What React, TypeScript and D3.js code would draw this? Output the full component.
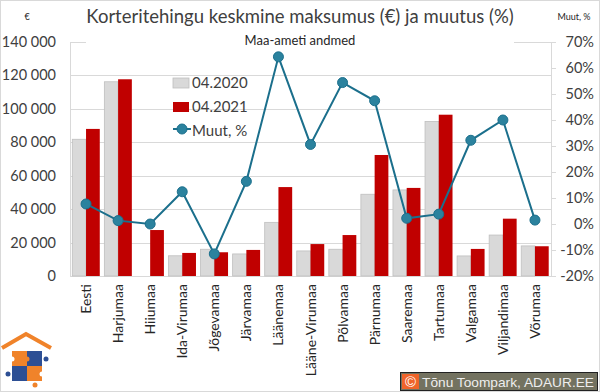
import React, { useEffect, useRef } from 'react';
import * as d3 from 'd3';

const categories = ['Eesti', 'Harjumaa', 'Hiiumaa', 'Ida-Virumaa', 'Jõgevamaa', 'Järvamaa', 'Läänemaa', 'Lääne-Virumaa', 'Põlvamaa', 'Pärnumaa', 'Saaremaa', 'Tartumaa', 'Valgamaa', 'Viljandimaa', 'Võrumaa'];
const price2020 = [81800, 116200, 0, 12100, 16000, 13200, 32100, 15000, 16000, 48900, 51500, 92500, 12000, 24500, 18000];
const price2021 = [88000, 117700, 27500, 13800, 14200, 15600, 53200, 19100, 24500, 72400, 52700, 96500, 16200, 34300, 17800];
const change = [7.7, 1.3, 0, 12.4, -11.5, 16.4, 64.3, 30.6, 54.4, 47.4, 2.2, 3.8, 32.2, 40.0, 1.5];
const leftTicks = [0, 20000, 40000, 60000, 80000, 100000, 120000, 140000];
const rightTicks = [-20, -10, 0, 10, 20, 30, 40, 50, 60, 70];
const seriesNames = ['04.2020', '04.2021', 'Muut, %'];

const FONT = 'Lato, "Open Sans", sans-serif';

const App = () => {
  const svgRef = useRef<SVGSVGElement>(null);

  useEffect(() => {
    const svg = d3.select(svgRef.current);
    svg.selectAll('*').remove();
    const W = 600, H = 392;
    const left = 70, right = 551, top = 42, bottom = 276;

    svg.append('rect').attr('x', 0.5).attr('y', 0.5).attr('width', W - 1).attr('height', H - 1)
      .attr('fill', '#fff').attr('stroke', '#d9d9d9');

    const x0 = d3.scaleBand().domain(categories).range([left, right]).paddingInner(0.143).paddingOuter(0.0715);
    const x1 = d3.scaleBand().domain(['a', 'b']).range([0, x0.bandwidth()]);
    const y = d3.scaleLinear().domain([0, 140000]).range([bottom, top]);
    const y2 = d3.scaleLinear().domain([-20, 70]).range([bottom, top]);

    // gridlines
    svg.append('g').selectAll('line').data(leftTicks).enter().append('line')
      .attr('x1', left).attr('x2', right)
      .attr('y1', d => Math.round(y(d)) + 0.5).attr('y2', d => Math.round(y(d)) + 0.5)
      .attr('stroke', '#d9d9d9');

    // axes lines
    svg.append('line').attr('x1', left + 0.5).attr('x2', left + 0.5).attr('y1', top).attr('y2', bottom)
      .attr('stroke', '#d9d9d9');
    svg.append('line').attr('x1', right + 0.5).attr('x2', right + 0.5).attr('y1', top).attr('y2', bottom)
      .attr('stroke', '#d9d9d9');
    svg.append('g').selectAll('line').data(rightTicks).enter().append('line')
      .attr('x1', right).attr('x2', right + 5)
      .attr('y1', d => Math.round(y2(d)) + 0.5).attr('y2', d => Math.round(y2(d)) + 0.5)
      .attr('stroke', '#d9d9d9');

    // tick labels
    svg.append('g').selectAll('text').data(leftTicks).enter().append('text')
      .attr('x', 56).attr('y', d => y(d) + 5).attr('text-anchor', 'end')
      .attr('font-family', FONT).attr('font-size', 14.5).attr('fill', '#404040')
      .text(d => d3.format(',')(d).replace(/,/g, ' '));
    svg.append('g').selectAll('text').data(rightTicks).enter().append('text')
      .attr('x', 594).attr('y', d => y2(d) + 5).attr('text-anchor', 'end')
      .attr('font-family', FONT).attr('font-size', 14.5).attr('fill', '#404040')
      .text(d => d + '%');

    // bars
    const g = svg.append('g');
    g.selectAll('rect.a').data(categories).enter().append('rect')
      .attr('x', d => (x0(d) as number) + (x1('a') as number))
      .attr('y', (d, i) => y(price2020[i]))
      .attr('width', x1.bandwidth())
      .attr('height', (d, i) => bottom - y(price2020[i]))
      .attr('fill', '#d9d9d9').attr('stroke', '#bfbfbf').attr('stroke-width', 0.8);
    g.selectAll('rect.b').data(categories).enter().append('rect')
      .attr('x', d => (x0(d) as number) + (x1('b') as number))
      .attr('y', (d, i) => y(price2021[i]))
      .attr('width', x1.bandwidth())
      .attr('height', (d, i) => bottom - y(price2021[i]))
      .attr('fill', '#c00000');

    // category labels
    svg.append('g').selectAll('text').data(categories).enter().append('text')
      .attr('transform', d => `translate(${(x0(d) as number) + x0.bandwidth() / 2 + 5},284) rotate(-90)`)
      .attr('text-anchor', 'end')
      .attr('font-family', FONT).attr('font-size', 14).attr('fill', '#262626')
      .text(d => d);

    // line
    const cx = (d: string) => (x0(d) as number) + x0.bandwidth() / 2;
    const line = d3.line<number>().x((d, i) => cx(categories[i])).y(d => y2(d));
    svg.append('path').datum(change).attr('d', line).attr('fill', 'none')
      .attr('stroke', '#1b6f8c').attr('stroke-width', 2);
    svg.append('g').selectAll('circle').data(change).enter().append('circle')
      .attr('cx', (d, i) => cx(categories[i])).attr('cy', d => y2(d)).attr('r', 5)
      .attr('fill', '#2b829e').attr('stroke', '#1b6f8c').attr('stroke-width', 1);

    // subtitle box (covers top gridline)
    svg.append('rect').attr('x', 86).attr('y', 32).attr('width', 428).attr('height', 16).attr('fill', '#fff');
    svg.append('text').attr('x', 300).attr('y', 45).attr('text-anchor', 'middle')
      .attr('font-family', FONT).attr('font-size', 13).attr('fill', '#262626').text('Maa-ameti andmed');

    // title
    svg.append('text').attr('x', 300).attr('y', 23).attr('text-anchor', 'middle')
      .attr('font-family', FONT).attr('font-size', 18.5).attr('fill', '#404040')
      .text('Korteritehingu keskmine maksumus (€) ja muutus (%)');
    svg.append('text').attr('x', 27).attr('y', 20).attr('text-anchor', 'middle')
      .attr('font-family', FONT).attr('font-size', 9).attr('fill', '#262626').text('€');
    svg.append('text').attr('x', 574).attr('y', 20).attr('text-anchor', 'middle')
      .attr('font-family', FONT).attr('font-size', 9).attr('fill', '#262626').text('Muut, %');

    // legend
    const lg = svg.append('g').attr('transform', 'translate(173,78)');
    lg.append('rect').attr('x', 0).attr('y', 0).attr('width', 16).attr('height', 10)
      .attr('fill', '#d9d9d9').attr('stroke', '#bfbfbf').attr('stroke-width', 0.8);
    lg.append('rect').attr('x', 0).attr('y', 24).attr('width', 16).attr('height', 10).attr('fill', '#c00000');
    lg.append('line').attr('x1', 0).attr('x2', 18).attr('y1', 51).attr('y2', 51)
      .attr('stroke', '#1b6f8c').attr('stroke-width', 2);
    lg.append('circle').attr('cx', 9).attr('cy', 51).attr('r', 5)
      .attr('fill', '#2b829e').attr('stroke', '#1b6f8c');
    lg.selectAll('text').data(seriesNames).enter().append('text')
      .attr('x', 19).attr('y', (d, i) => 10 + i * 24)
      .attr('font-family', FONT).attr('font-size', 15).attr('fill', '#404040').text(d => d);

    // logo
    const logo = svg.append('g').attr('transform', 'translate(2,333)');
    logo.append('path').attr('d', 'M0,15 L24,1 L49,15').attr('fill', 'none')
      .attr('stroke', '#f0832a').attr('stroke-width', 4);
    logo.append('rect').attr('x', 10).attr('y', 18).attr('width', 15).attr('height', 15).attr('fill', '#f0832a');
    logo.append('rect').attr('x', 25).attr('y', 18).attr('width', 15).attr('height', 15).attr('fill', '#2d4f94');
    logo.append('rect').attr('x', 10).attr('y', 33).attr('width', 15).attr('height', 15).attr('fill', '#2d4f94');
    logo.append('rect').attr('x', 25).attr('y', 33).attr('width', 15).attr('height', 15).attr('fill', '#f0832a');
    logo.append('circle').attr('cx', 44).attr('cy', 26).attr('r', 2.5).attr('fill', '#2d4f94');
    logo.append('circle').attr('cx', 6).attr('cy', 41).attr('r', 2.5).attr('fill', '#2d4f94');
    logo.append('circle').attr('cx', 33).attr('cy', 52).attr('r', 2.5).attr('fill', '#f0832a');
    logo.append('circle').attr('cx', 25).attr('cy', 26).attr('r', 2.5).attr('fill', '#f0832a');
    logo.append('circle').attr('cx', 10).attr('cy', 26).attr('r', 2.5).attr('fill', '#fff');
    logo.append('circle').attr('cx', 40).attr('cy', 41).attr('r', 2.5).attr('fill', '#fff');

    // copyright
    const cp = svg.append('g').attr('transform', 'translate(400,372)');
    cp.append('rect').attr('x', 0.5).attr('y', 0.5).attr('width', 197).attr('height', 18)
      .attr('fill', '#737260').attr('stroke', '#222');
    cp.append('rect').attr('x', 2).attr('y', 2).attr('width', 17).attr('height', 15).attr('fill', '#f0642a');
    cp.append('text').attr('x', 10.5).attr('y', 15).attr('text-anchor', 'middle')
      .attr('font-family', 'Arial, "Liberation Sans", sans-serif').attr('font-size', 15).attr('fill', '#fff').text('©');
    cp.append('text').attr('x', 22).attr('y', 15)
      .attr('font-family', 'Arial, "Liberation Sans", sans-serif').attr('font-size', 13.5).attr('fill', '#eeeeee')
      .attr('textLength', 172).attr('lengthAdjust', 'spacingAndGlyphs')
      .text('Tõnu Toompark, ADAUR.EE');
  }, []);

  return (
    <div style={{ position: 'absolute', left: 0, top: 0 }}>
      <svg ref={svgRef} width={600} height={392} />
    </div>
  );
};

export default App;
